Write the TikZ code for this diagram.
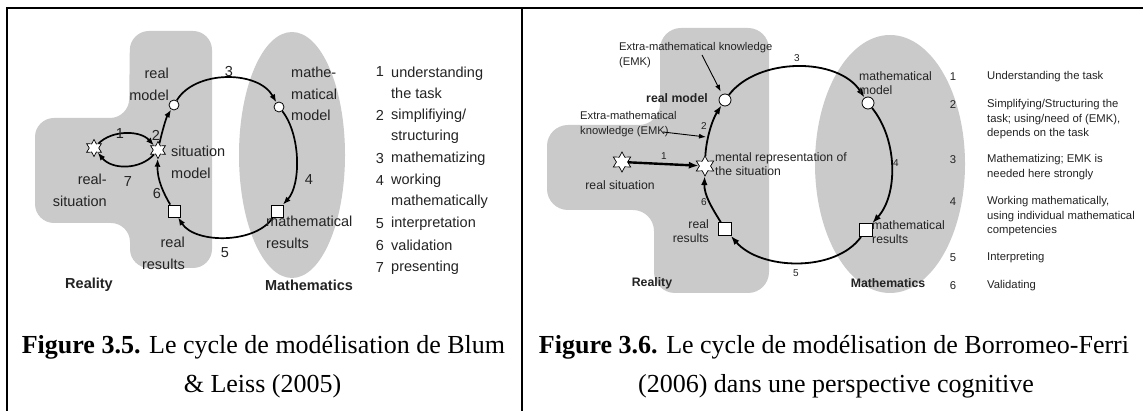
\documentclass[tikz,border=0pt]{standalone}
\usepackage{fontspec}
\setmainfont{Liberation Serif}
\newfontfamily\arialf{Liberation Sans}
\usetikzlibrary{shapes.geometric,arrows.meta}
\definecolor{blobgray}{RGB}{202,202,202}
\definecolor{txt}{RGB}{35,35,35}
\begin{document}
\begin{tikzpicture}[x=1pt,y=-1pt,
  lab/.style={font=\arialf\fontsize{14.5}{21.7}\selectfont, text=txt, inner sep=0pt},
  labb/.style={font=\arialf\bfseries\fontsize{14.5}{21.7}\selectfont, text=txt, inner sep=0pt},
  rlab/.style={font=\arialf\fontsize{12.2}{14.5}\selectfont, text=txt, inner sep=0pt},
  rlabb/.style={font=\arialf\bfseries\fontsize{12.3}{14.5}\selectfont, text=txt, inner sep=0pt},
  emk/.style={font=\arialf\fontsize{11.2}{15}\selectfont, text=txt, inner sep=0pt},
  rsmall/.style={font=\arialf\fontsize{10}{12}\selectfont, text=txt, inner sep=0pt},
  rleg/.style={font=\arialf\fontsize{11.3}{14.5}\selectfont, text=txt, inner sep=0pt},
  captext/.style={font=\fontsize{26}{41}\selectfont, inner sep=0pt},
  starnode/.style={star, star points=6, star point ratio=1.8, draw=black, fill=white, line width=0.7pt, inner sep=0pt},
  circnode/.style={circle, draw=black, fill=white, line width=0.8pt, inner sep=0pt},
  sqnode/.style={rectangle, draw=black, fill=white, line width=0.8pt, inner sep=0pt},
  arr/.style={-{Latex[length=8pt,width=6pt]}, line width=1.7pt},
  arrR/.style={-{Latex[length=9pt,width=6.5pt]}, line width=1.8pt},
  thinarr/.style={-{Latex[length=7pt,width=5pt]}, line width=0.9pt},
  frameline/.style={line width=1.3pt},
]
\useasboundingbox (0,0) rectangle (1143,411);
\fill[white] (0,0) rectangle (1143,411);

% ---------- frame ----------
\draw[line width=2.4pt] (6.4,8) -- (1143,8);
\draw[frameline] (7,8) -- (7,411);
\draw[frameline] (522,8) -- (522,411);

% ---------- left panel backgrounds ----------
\fill[blobgray, rounded corners=19pt] (129,118) -- (35,118) -- (35,223) -- (130,223) -- (130,268) -- (212,268) -- (212,31) -- (130,31) -- cycle;
\fill[blobgray] (292,155) ellipse [x radius=53, y radius=123];

% ---------- right panel backgrounds ----------
\fill[blobgray, rounded corners=21pt] (660,125) -- (547,125) -- (547,210) -- (654,210) -- (654,293) -- (769,293) -- (769,28) -- (660,28) -- cycle;
\fill[blobgray] (890,164) ellipse [x radius=75, y radius=129];

% ---------- left panel nodes ----------
\node[starnode, minimum size=17pt] (Lrs) at (94,148) {};
\node[starnode, minimum size=17pt] (Lsm) at (158,150) {};
\node[circnode, minimum size=10pt] (Lrm) at (174,105) {};
\node[circnode, minimum size=10pt] (Lmm) at (279,107) {};
\node[sqnode, minimum size=12pt] (Lmr) at (277,211) {};
\node[sqnode, minimum size=12pt] (Lrr) at (174,211) {};

\draw[arr] (Lrs) .. controls (112,130) and (140,130) .. (Lsm);
\draw[arr] (Lsm) .. controls (140,170) and (112,170) .. (Lrs);
\draw[arr] (Lsm) .. controls (162,132) and (166,118) .. (Lrm);
\draw[arr] (Lrm) .. controls (195,70) and (258,70) .. (Lmm);
\draw[arr] (Lmm) .. controls (301,135) and (301,185) .. (Lmr);
\draw[arr] (Lmr) .. controls (256,244) and (195,244) .. (Lrr);
\draw[arr] (Lrr) .. controls (164,194) and (157,180) .. (Lsm);

\node[lab, align=right, anchor=east] (Lrml) at (169,84) {real\\model};
\node[lab] (L3) at (229,72) {3};
\node[lab, align=left, anchor=west] (Lmml) at (291,94) {mathe-\\matical\\model};
\node[lab] (L1) at (120,134) {1};
\node[lab] (L2) at (156,135) {2};
\node[lab, align=left, anchor=west] (Lsml) at (171,162.5) {situation\\model};
\node[lab, align=right, anchor=east] (Lrsl) at (107,190) {real-\\situation};
\node[lab] (L7) at (128,182) {7};
\node[lab] (L6) at (157,194) {6};
\node[lab] (L4) at (309,180) {4};
\node[lab, align=left, anchor=west] (Lmrl) at (266,232) {mathematical\\results};
\node[lab, align=right, anchor=east] (Lrrl) at (185,253) {real\\results};
\node[lab] (L5) at (225,253) {5};
\node[labb] (Lrea) at (89,285) {Reality};
\node[labb] (Lmat) at (309,285) {Mathematics};

% left legend
\node[lab] (ln1) at (380,72) {1};
\node[lab, align=left, anchor=west] (lt1) at (391,82.85) {understanding\\the task};
\node[lab] (ln2) at (380,115.4) {2};
\node[lab, align=left, anchor=west] (lt2) at (391,126.25) {simplifiying/\\structuring};
\node[lab] (ln3) at (380,158.8) {3};
\node[lab, anchor=west] (lt3) at (391,158.8) {mathematizing};
\node[lab] (ln4) at (380,180.5) {4};
\node[lab, align=left, anchor=west] (lt4) at (391,191.35) {working\\mathematically};
\node[lab] (ln5) at (380,223.9) {5};
\node[lab, anchor=west] (lt5) at (391,223.9) {interpretation};
\node[lab] (ln6) at (380,245.6) {6};
\node[lab, anchor=west] (lt6) at (391,245.6) {validation};
\node[lab] (ln7) at (380,267.3) {7};
\node[lab, anchor=west] (lt7) at (391,267.3) {presenting};

% ---------- right panel nodes ----------
\node[starnode, minimum size=20pt] (Rrs) at (622,162) {};
\node[starnode, minimum size=20pt] (Rms) at (705,166) {};
\node[circnode, minimum size=12pt] (Rrm) at (725,100) {};
\node[circnode, minimum size=12pt] (Rmm) at (868,103) {};
\node[sqnode, minimum size=13pt] (Rrr) at (725,229) {};
\node[sqnode, minimum size=13pt] (Rmr) at (866,230) {};

\draw[-{Latex[length=10pt,width=7pt]}, line width=2.4pt] (Rrs) -- (Rms);
\draw[arrR] (Rms) .. controls (706,140) and (712,120) .. (Rrm);
\draw[arrR] (Rrm) .. controls (758,57) and (838,57) .. (Rmm);
\draw[arrR] (Rmm) .. controls (898,140) and (898,195) .. (Rmr);
\draw[arrR] (Rmr) .. controls (835,273) and (760,270) .. (Rrr);
\draw[arrR] (Rrr) .. controls (712,208) and (704,195) .. (Rms);

\node[emk, align=left, anchor=west] (emk1) at (619,55.5) {Extra-mathematical knowledge\\(EMK)};
\node[emk, align=left, anchor=west] (emk2) at (580,124) {Extra-mathematical\\knowledge (EMK)};
\coordinate (e1s) at (702,55);
\coordinate (e2s) at (663,132);
\coordinate (e2e) at (706,137);
\draw[thinarr, shorten >=3pt] (e1s) -- (Rrm);
\draw[thinarr] (e2s) -- (e2e);

\node[rlabb] (Rrml) at (677,98) {real model};
\node[rsmall] (R2) at (704,126) {2};
\node[rsmall] (R3) at (797,58) {3};
\node[rsmall] (R1) at (664,156) {1};
\node[rlab] (Rrsl) at (620,185) {real situation};
\node[rlab, align=left, anchor=west] (Rmsl) at (715,164) {mental representation of\\the situation};
\node[rsmall] (R6) at (704,202) {6};
\node[rlab, align=right, anchor=east] (Rrrl) at (709,231) {real\\results};
\node[rsmall] (R5) at (796,273) {5};
\node[rlabb] (Rrea) at (652,283) {Reality};
\node[rlab, align=left, anchor=west] (Rmml) at (859,83) {mathematical\\model};
\node[rsmall] (R4) at (896,163) {4};
\node[rlab, align=left, anchor=west] (Rmrl) at (872,232) {mathematical\\results};
\node[rlabb] (Rmat) at (888,283) {Mathematics};

% right legend
\node[rleg] (rn1) at (953,77) {1};
\node[rleg, anchor=west] (rt1) at (987,77) {Understanding the task};
\node[rleg] (rn2) at (953,105) {2};
\node[rleg, align=left, anchor=west] (rt2) at (987,119.5) {Simplifying/Structuring the\\task; using/need of (EMK),\\depends on the task};
\node[rleg] (rn3) at (953,160) {3};
\node[rleg, align=left, anchor=west] (rt3) at (987,167.3) {Mathematizing; EMK is\\needed here strongly};
\node[rleg] (rn4) at (953,202) {4};
\node[rleg, align=left, anchor=west] (rt4) at (987,216.5) {Working mathematically,\\using individual mathematical\\competencies};
\node[rleg] (rn5) at (953,258) {5};
\node[rleg, anchor=west] (rt5) at (987,258) {Interpreting};
\node[rleg] (rn6) at (953,286) {6};
\node[rleg, anchor=west] (rt6) at (987,286) {Validating};

% ---------- captions ----------
\node[captext] (c1a) at (263.5,347) {\textbf{Figure 3.5.} Le cycle de modélisation de Blum};
\node[captext] (c1b) at (262.5,386) {\& Leiss (2005)};
\node[captext] (c2a) at (834,347) {\textbf{Figure 3.6.} Le cycle de modélisation de Borromeo-Ferri};
\node[captext] (c2b) at (836,386) {(2006) dans une perspective cognitive};
\end{tikzpicture}
\end{document}
